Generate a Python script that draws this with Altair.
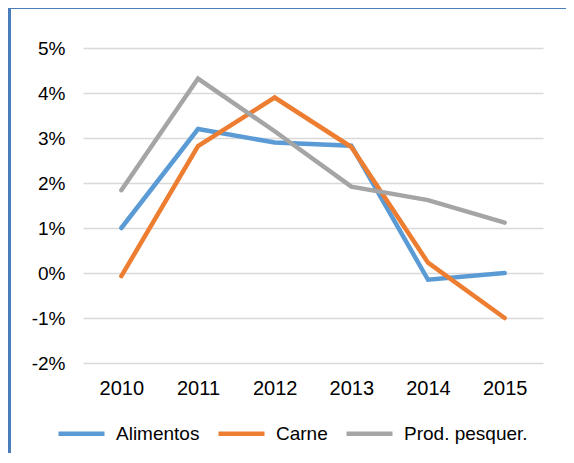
import altair as alt
import pandas as pd

years = ["2010", "2011", "2012", "2013", "2014", "2015"]
alimentos = [1.0, 3.2, 2.9, 2.83, -0.15, 0.0]
carne = [-0.07, 2.82, 3.9, 2.8, 0.23, -1.0]
pesquer = [1.84, 4.32, 3.15, 1.92, 1.62, 1.12]
series_names = ["Alimentos", "Carne", "Prod. pesquer."]
series_colors = ["#5b9bd5", "#ed7d31", "#a5a5a5"]
y_ticks = [-2, -1, 0, 1, 2, 3, 4, 5]

rows = []
for name, vals in zip(series_names, [alimentos, carne, pesquer]):
    for yr, v in zip(years, vals):
        rows.append({"year": yr, "value": v, "serie": name})
df = pd.DataFrame(rows)

FONT = "Liberation Sans"
W, H = 460, 315
PAD_L, PAD_T, PAD_R, PAD_B = 75, 40, 23, 90

lines = alt.Chart(df).mark_line(strokeWidth=4.5, strokeCap="round").encode(
    x=alt.X("year:O", sort=years,
            scale=alt.Scale(type="point", padding=0.5),
            axis=alt.Axis(title=None, labelAngle=0, domain=False, ticks=False,
                          tickSize=0, labelPadding=15, labelFontSize=20,
                          labelFont=FONT, labelColor="#000000", grid=False)),
    y=alt.Y("value:Q",
            scale=alt.Scale(domain=[-2, 5], nice=False, zero=False),
            axis=alt.Axis(title=None, values=y_ticks, domain=False, ticks=False,
                          tickSize=0, labelPadding=18, labelFontSize=19,
                          labelFont=FONT, labelColor="#000000",
                          labelExpr="datum.value + '%'",
                          grid=True, gridColor="#d9d9d9", gridWidth=1.4)),
    color=alt.Color("serie:N",
                    scale=alt.Scale(domain=series_names, range=series_colors),
                    legend=alt.Legend(title=None, orient="none", direction="horizontal",
                                      legendX=-27, legendY=360,
                                      symbolType="stroke", symbolSize=2116,
                                      symbolStrokeWidth=4.5, labelFontSize=19,
                                      labelFont=FONT, labelColor="#000000",
                                      labelOffset=9, columnPadding=9)),
)

one = alt.Data(values=[{}])
left_border = alt.Chart(one).mark_rule(color="#4a7ebb", strokeWidth=3).encode(
    x=alt.value(-73.5), y=alt.value(-PAD_T), y2=alt.value(H + PAD_B))
top_border = alt.Chart(one).mark_rule(color="#4a7ebb", strokeWidth=3).encode(
    x=alt.value(-PAD_L), x2=alt.value(W + PAD_R), y=alt.value(-40.5))

chart = alt.layer(lines, left_border, top_border).properties(
    width=W, height=H,
    autosize=alt.AutoSizeParams(type="none"),
    padding={"left": PAD_L, "top": PAD_T, "right": PAD_R, "bottom": PAD_B},
).configure_view(strokeWidth=0)

chart.save("out.html", embed_options={"renderer": "svg", "actions": False})
